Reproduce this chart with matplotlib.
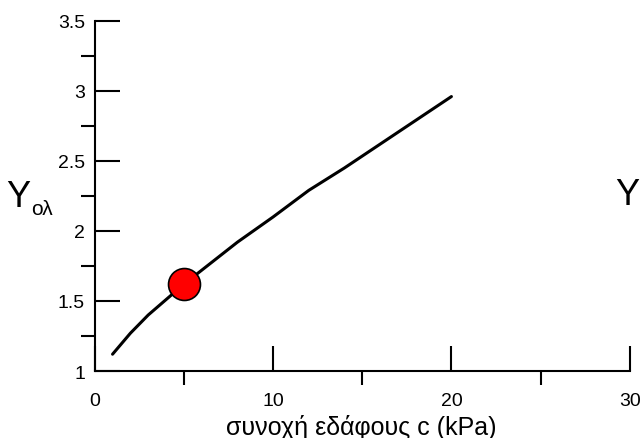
import numpy as np
import matplotlib.pyplot as plt

plt.rcParams['font.family'] = ['Liberation Sans', 'DejaVu Sans']

# curve: cohesion c (kPa) vs Y_ol
c_vals = [1, 2, 3, 4, 5, 6, 8, 10, 12, 14, 16, 18, 20]
y_vals = [1.12, 1.27, 1.40, 1.51, 1.62, 1.72, 1.92, 2.10, 2.29, 2.45, 2.62, 2.79, 2.96]

# highlighted point
pt_c = [5]
pt_y = [1.62]

fig = plt.figure(figsize=(6.4, 4.39), dpi=100)
ax = fig.add_axes([0.148, 0.1526, 0.836, 0.7974])

ax.plot(c_vals, y_vals, color='black', lw=2.2, solid_capstyle='round')
ax.plot(pt_c, pt_y, 'o', ms=23, mfc='red', mec='black', mew=1.2, zorder=5)

ax.set_xlim(0, 30)
ax.set_ylim(1, 3.5)
ax.set_xticks([0, 10, 20, 30])
ax.set_xticks([5, 15, 25], minor=True)
ax.set_yticks([1, 1.5, 2, 2.5, 3, 3.5])
ax.set_yticklabels(['1', '1.5', '2', '2.5', '3', '3.5'])
ax.set_yticks([1.25, 1.75, 2.25, 2.75, 3.25], minor=True)

ax.tick_params(which='major', direction='in', length=18, width=1.5, labelsize=14)
ax.tick_params(which='minor', direction='out', length=10, width=1.5)
ax.tick_params(axis='x', which='major', pad=15)
ax.tick_params(axis='y', which='major', pad=7)

for s in ['top', 'right']:
    ax.spines[s].set_visible(False)
for s in ['left', 'bottom']:
    ax.spines[s].set_linewidth(1.5)

fig.text(0.565, 0.009, 'συνοχή εδάφους c (kPa)', fontsize=18, ha='center', va='baseline')

fig.text(0.010, 0.528, 'Y', fontsize=26, va='baseline', ha='left')
fig.text(0.049, 0.510, 'ολ', fontsize=15, va='baseline', ha='left')
fig.text(0.961, 0.533, 'Y', fontsize=26, va='baseline', ha='left')

fig.savefig('out.png', dpi=100)
